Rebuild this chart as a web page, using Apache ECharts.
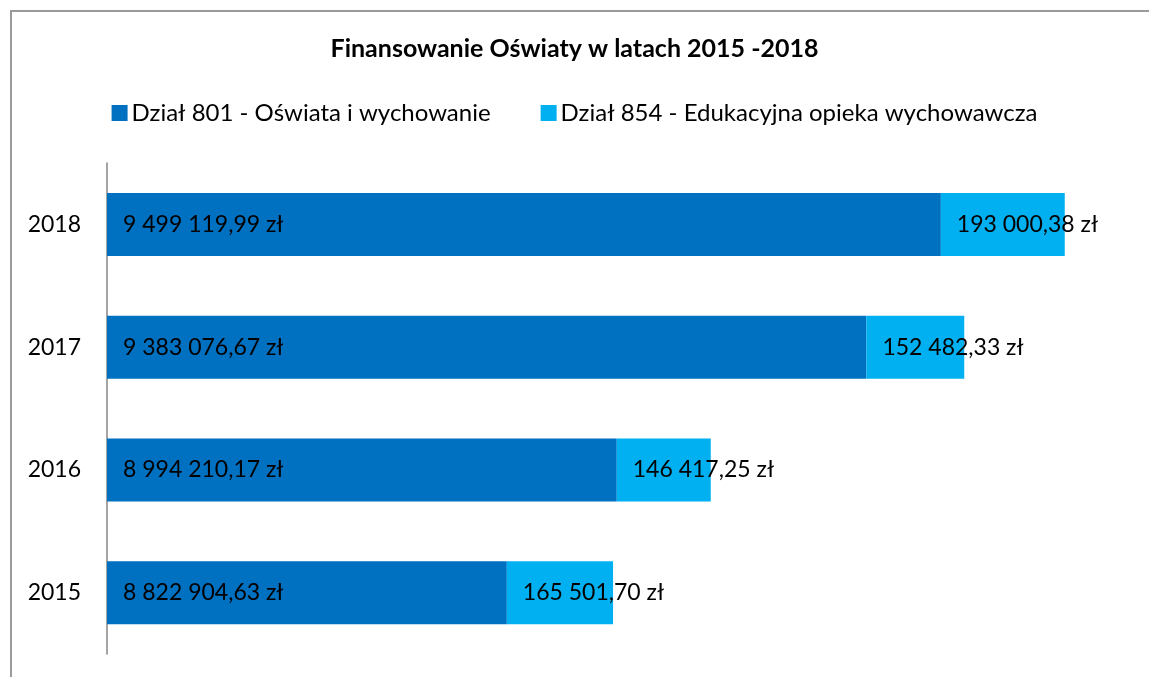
<!DOCTYPE html>
<html>
<head>
<meta charset="utf-8">
<script src="https://cdn.jsdelivr.net/npm/echarts@6/dist/echarts.min.js"></script>
<style>
  html, body { margin: 0; padding: 0; background: #fff; overflow: hidden; }
  #chart { width: 1149px; height: 677px; }
  /* ramka wykresu: prawa i dolna krawędź poza kadrem */
  .frame {
    position: absolute; left: 10px; top: 10px;
    width: 1139px; height: 667px;
    border-top: 2px solid #9a9a9a; border-left: 2px solid #9a9a9a;
    pointer-events: none;
  }
</style>
</head>
<body>
<div id="chart"></div>
<div class="frame"></div>
<script>
// dane
const years = ['2015', '2016', '2017', '2018']
const dzial801 = [8822904.63, 8994210.17, 9383076.67, 9499119.99]
const dzial854 = [165501.70, 146417.25, 152482.33, 193000.38]
const seriesNames = ['Dział 801 - Oświata i wychowanie', 'Dział 854 - Edukacyjna opieka wychowawcza']

function formatZl(v) {
  const parts = v.toFixed(2).split('.')
  const intPart = parts[0].replace(/\B(?=(\d{3})+(?!\d))/g, ' ')
  return intPart + ',' + parts[1] + ' zł'
}

const FONT = 'Lato, "Open Sans", sans-serif'

const chart = echarts.init(document.getElementById('chart'))
chart.setOption({
  animation: false,
  title: {
    text: 'Finansowanie Oświaty w latach 2015 -2018',
    left: 'center',
    top: 31,
    textStyle: { fontFamily: FONT, fontSize: 25, fontWeight: 'bold', color: '#000' }
  },
  legend: {
    top: 96,
    left: 'center',
    icon: 'rect',
    itemWidth: 16,
    itemHeight: 16,
    itemGap: 50,
    textStyle: { fontFamily: FONT, fontSize: 24, color: '#000', padding: [0, 0, 0, -1] },
    data: seriesNames
  },
  grid: { left: 107, right: 15, top: 163, bottom: 23, containLabel: false },
  xAxis: {
    type: 'value',
    min: 8200000,
    max: 9800000,
    axisLine: { show: false },
    axisTick: { show: false },
    axisLabel: { show: false },
    splitLine: { show: false }
  },
  yAxis: {
    type: 'category',
    data: years,
    axisLine: { show: true, lineStyle: { color: '#868686', width: 1.5 } },
    axisTick: { show: false },
    axisLabel: { fontFamily: FONT, fontSize: 23, color: '#000', margin: 26 }
  },
  series: [
    {
      name: seriesNames[0],
      type: 'bar',
      stack: 'total',
      barWidth: 63,
      data: dzial801,
      itemStyle: { color: '#0070C0' },
      label: {
        show: true,
        position: 'insideLeft',
        distance: 16,
        fontFamily: FONT, fontSize: 23, color: '#000',
        formatter: p => formatZl(p.value)
      }
    },
    {
      name: seriesNames[1],
      type: 'bar',
      stack: 'total',
      barWidth: 63,
      data: dzial854,
      itemStyle: { color: '#00B0F0' },
      label: {
        show: true,
        position: 'insideLeft',
        distance: 16,
        fontFamily: FONT, fontSize: 23, color: '#000',
        formatter: p => formatZl(p.value)
      }
    }
  ]
})
</script>
</body>
</html>
